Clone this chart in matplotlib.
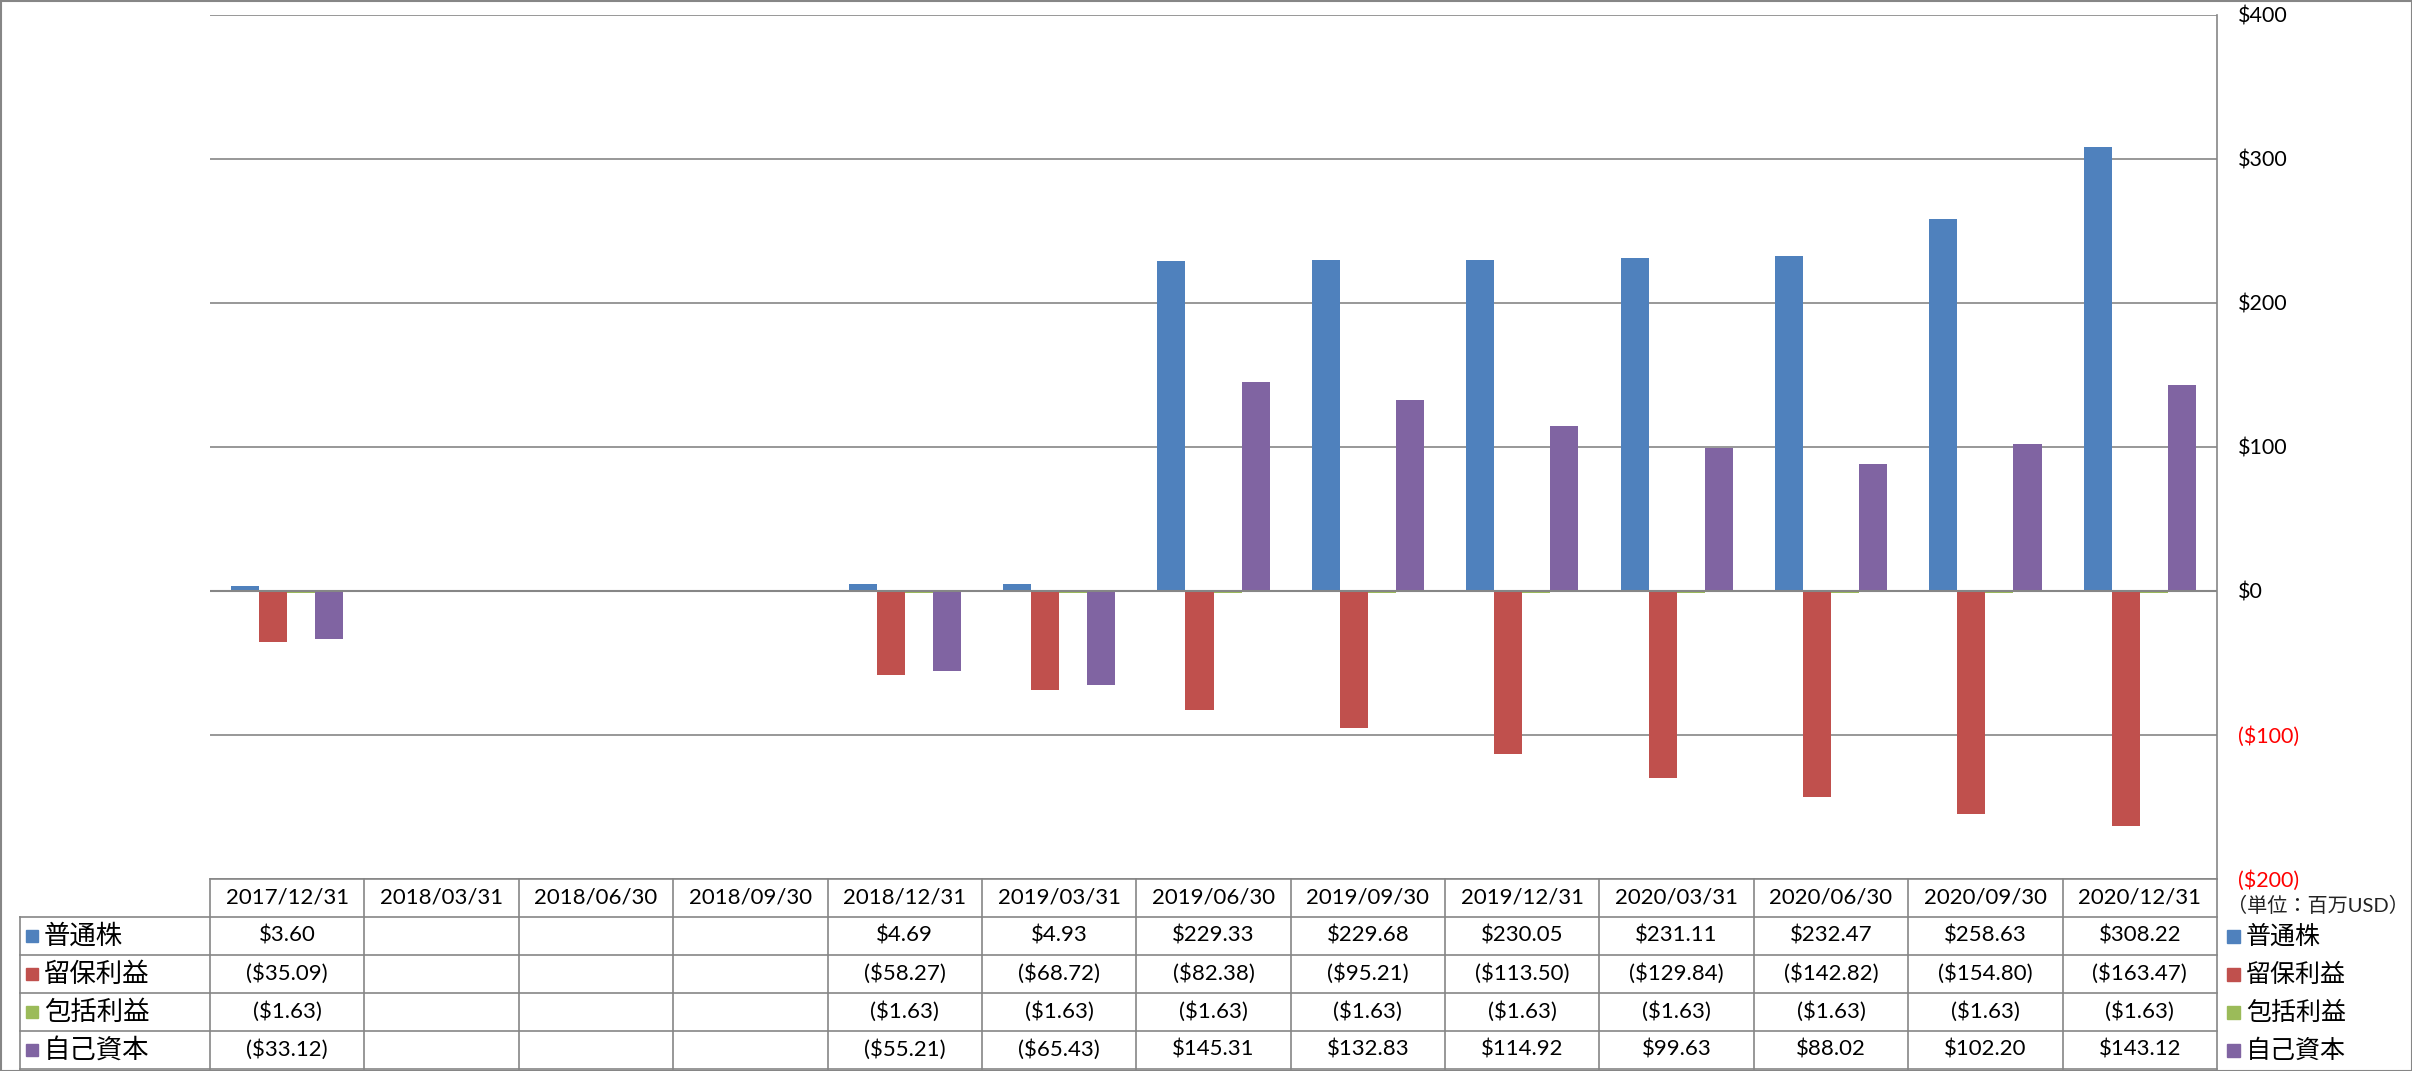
import numpy as np
import matplotlib.pyplot as plt
from matplotlib.patches import Rectangle

plt.rcParams['font.family'] = ['Lato', 'Noto Sans CJK JP', 'DejaVu Sans']

# data
dates = ['2017/12/31', '2018/03/31', '2018/06/30', '2018/09/30', '2018/12/31',
         '2019/03/31', '2019/06/30', '2019/09/30', '2019/12/31', '2020/03/31',
         '2020/06/30', '2020/09/30', '2020/12/31']
series_names = ['普通株', '留保利益', '包括利益', '自己資本']
common_stock = [3.60, None, None, None, 4.69, 4.93, 229.33, 229.68, 230.05, 231.11, 232.47, 258.63, 308.22]
retained = [-35.09, None, None, None, -58.27, -68.72, -82.38, -95.21, -113.50, -129.84, -142.82, -154.80, -163.47]
comprehensive = [-1.63, None, None, None, -1.63, -1.63, -1.63, -1.63, -1.63, -1.63, -1.63, -1.63, -1.63]
equity = [-33.12, None, None, None, -55.21, -65.43, 145.31, 132.83, 114.92, 99.63, 88.02, 102.20, 143.12]
yticks = [-200, -100, 0, 100, 200, 300, 400]
colors = ['#4F81BD', '#C0504D', '#9BBB59', '#8064A2']
unit_label = '（単位：百万USD）'

all_series = [common_stock, retained, comprehensive, equity]

W, H = 2412, 1071
fig = plt.figure(figsize=(W / 100, H / 100), dpi=100)

# layout in pixels
px_left, px_right = 210, 2217
px_top, px_bottom = 15, 879
row_h = 38
grid_col = '#868686'

ax = fig.add_axes([px_left / W, 1 - px_bottom / H, (px_right - px_left) / W, (px_bottom - px_top) / H])
n = len(dates)
x = np.arange(n)
bw = 1 / 5.5
for i, (vals, c) in enumerate(zip(all_series, colors)):
    v = np.array([np.nan if a is None else a for a in vals], dtype=float)
    ax.bar(x + (i - 1.5) * bw, v, width=bw, color=c, zorder=3)

ax.set_xlim(-0.5, n - 0.5)
ax.set_ylim(-200, 400)
ax.set_xticks([])
ax.yaxis.tick_right()
ax.set_yticks(yticks)
ax.set_yticklabels([f'${t}' if t >= 0 else f'(${-t})' for t in yticks])
for lbl, t in zip(ax.get_yticklabels(), yticks):
    lbl.set_color('red' if t < 0 else 'black')
    lbl.set_fontsize(15.5)
ax.tick_params(axis='y', length=0, pad=15)
ax.grid(axis='y', color=grid_col, linewidth=1.2, zorder=0)
ax.axhline(0, color=grid_col, linewidth=1.5, zorder=4)
for s in ['top', 'left', 'bottom']:
    ax.spines[s].set_visible(False)
ax.spines['right'].set_color(grid_col)
ax.spines['right'].set_linewidth(1.2)

# table drawn on an overlay axes in pixel coordinates
tx = fig.add_axes([0, 0, 1, 1])
tx.set_xlim(0, W)
tx.set_ylim(H, 0)
tx.axis('off')

col_w = (px_right - px_left) / n
label_left = 20
lw = 1.2
tab_bottom = px_bottom + row_h * 5

# horizontal lines
tx.plot([px_left, px_right], [px_bottom, px_bottom], color=grid_col, lw=lw)
for r in range(1, 6):
    y = px_bottom + row_h * r
    tx.plot([label_left, px_right], [y, y], color=grid_col, lw=lw)
# vertical lines
for k in range(n + 1):
    xx = px_left + k * col_w
    tx.plot([xx, xx], [px_bottom, tab_bottom], color=grid_col, lw=lw)
tx.plot([label_left, label_left], [px_bottom + row_h, tab_bottom], color=grid_col, lw=lw)

# header
for k, d in enumerate(dates):
    tx.text(px_left + (k + 0.5) * col_w, px_bottom + row_h / 2, d, ha='center', va='center', fontsize=16)


def fmt(v):
    if v is None:
        return ''
    return f'${v:,.2f}' if v >= 0 else f'(${-v:,.2f})'


for r, (name, vals, c) in enumerate(zip(series_names, all_series, colors)):
    yc = px_bottom + row_h * (r + 1.5)
    tx.add_patch(Rectangle((label_left + 6, yc - 6), 12, 12, color=c))
    tx.text(label_left + 24, yc, name, ha='left', va='center', fontsize=19)
    for k, v in enumerate(vals):
        tx.text(px_left + (k + 0.5) * col_w, yc, fmt(v), ha='center', va='center', fontsize=16)
    # legend on the right
    tx.add_patch(Rectangle((px_right + 10, yc - 6), 13, 13, color=c))
    tx.text(px_right + 29, yc, name, ha='left', va='center', fontsize=18)

tx.text(px_right + 10, 905, unit_label, ha='left', va='center', fontsize=14.5, color='#222222')

# outer border
tx.add_patch(Rectangle((0.5, 0.5), W - 1, H - 1, fill=False, edgecolor=grid_col, lw=1.5))

fig.savefig('out.png', dpi=100)
